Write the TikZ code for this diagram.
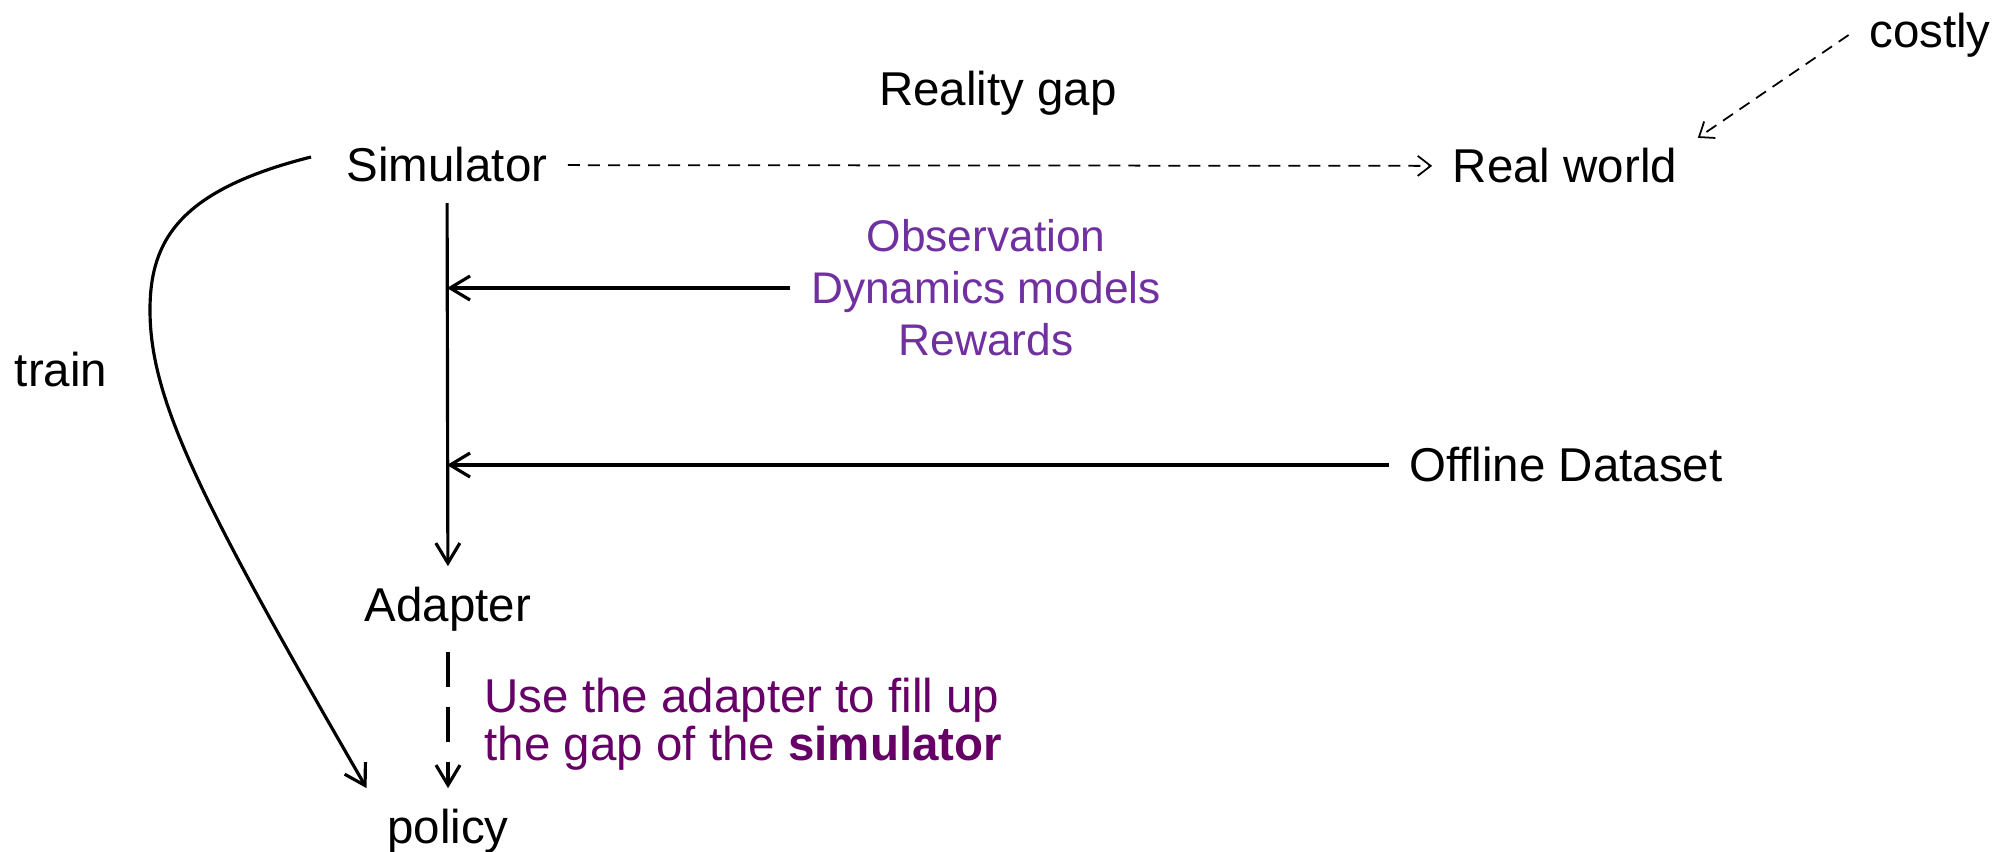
\documentclass[tikz,border=0pt]{standalone}
\usepackage{fontspec}
\setmainfont{Liberation Sans}
\usetikzlibrary{arrows.meta, positioning}
\definecolor{obspurple}{HTML}{7030A0}
\definecolor{notepurple}{HTML}{660066}
\tikzset{
  % etichette
  lbl/.style={font=\fontsize{13.5}{14.5}\selectfont, inner sep=2mm},
  % frecce piene
  flow/.style={-{Straight Barb[length=2mm, width=2.4mm]}, line width=0.9pt},
  % frecce tratteggiate sottili
  gapline/.style={-{Straight Barb[length=1.3mm, width=2mm]}, line width=0.5pt,
    dash pattern=on 1.2mm off 0.8mm},
  % adattatore -> policy
  adaptline/.style={flow, dash pattern=on 3.5mm off 2mm},
}

\begin{document}
\begin{tikzpicture}[x=0.01cm, y=-0.01cm]
  \useasboundingbox (0,0) rectangle (1999,851);
  % nodi principali
  \node[lbl] (sim) at (447,165) {Simulator};
  \node[lbl] (real) at (1565,166) {Real world};
  \node[lbl] (gap) at (998,93) {Reality gap};
  \node[lbl] (costly) at (1930,35) {costly};
  \node[lbl] (adapt) at (448,609) {Adapter};
  \node[lbl] (pol) at (448,831) {policy};
  \node[lbl] (train) at (61,370) {train};
  % sorgenti
  \node[lbl, text=obspurple, align=center, font=\fontsize{12.6}{14.8}\selectfont] (obs) at (986,288) {Observation\\Dynamics models\\Rewards};
  \node[lbl] (off) at (1566,465) {Offline Dataset};
  \node[lbl, text=notepurple, align=left, anchor=west, font=\fontsize{13.5}{13.6}\selectfont] (note) at (464,724) {Use the adapter to fill up\\the gap of the \textbf{simulator}};
  % collegamenti
  \draw[gapline] (sim) -- (real);
  \draw[gapline] (costly.west) -- ([yshift=-0.1cm]real.north east);
  \draw[flow] (sim) -- (adapt);
  \draw[flow] (obs.west) -- (obs.west -| sim.south);
  \draw[flow] (off.west) -- (off.west -| sim.south);
  \draw[adaptline] (adapt) -- (pol);
  \draw[flow] ([xshift=-0.15cm, yshift=0.08cm]sim.west) .. controls (180,190) and (150,240) .. (150,310) .. controls (150,400) and (200,500) .. (pol.north west);
\end{tikzpicture}
\end{document}
